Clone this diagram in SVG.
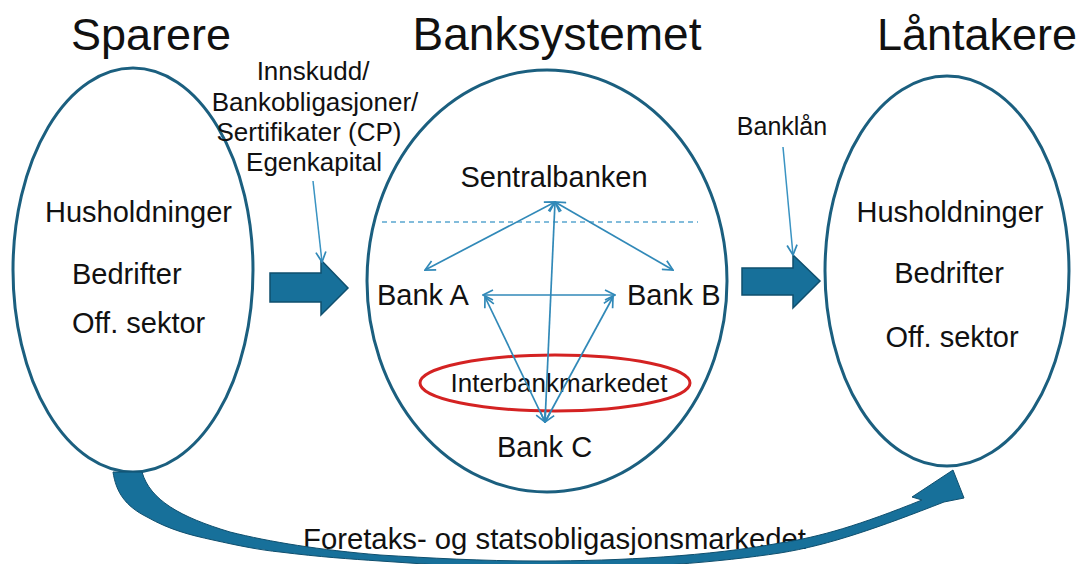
<svg xmlns="http://www.w3.org/2000/svg" width="1083" height="564" viewBox="0 0 1083 564">
  <style>
    text { font-family: "Liberation Sans", Arial, sans-serif; fill: #111; }
    .title { font-size: 45px; text-anchor: middle; }
    .lbl { font-size: 29px; }
    .mid { text-anchor: middle; }
    .small { font-size: 26px; text-anchor: middle; }
    .sector { fill: none; stroke: #1b5f7f; stroke-width: 3; }
    .block { fill: #17709a; stroke: #0f4f6e; stroke-width: 1.5; }
    .link { fill: none; stroke: #3189b8; stroke-width: 1.7; marker-start: url(#head); marker-end: url(#head); }
    .pointer { fill: none; stroke: #3a93c2; stroke-width: 1.5; marker-end: url(#head); }
  </style>
  <defs>
    <marker id="head" viewBox="0 0 12 12" refX="11" refY="6" markerWidth="12" markerHeight="12" markerUnits="userSpaceOnUse" orient="auto-start-reverse">
      <path d="M1,1 L11,6 L1,11" fill="none" stroke="#3189b8" stroke-width="1.7"/>
    </marker>
  </defs>

  <!-- column headings -->
  <text class="title" x="151" y="50">Sparere</text>
  <text class="title" x="557" y="50" style="font-size:46px">Banksystemet</text>
  <text class="title" x="977" y="50">Låntakere</text>

  <!-- savers -->
  <g id="sparere">
    <ellipse class="sector" cx="133" cy="270" rx="120" ry="202"/>
    <text class="lbl" x="45" y="222">Husholdninger</text>
    <text class="lbl" x="72" y="284">Bedrifter</text>
    <text class="lbl" x="72" y="333">Off. sektor</text>
  </g>

  <!-- banking system -->
  <g id="banksystemet">
    <ellipse class="sector" cx="547" cy="281" rx="180" ry="211"/>
    <line x1="382" y1="222" x2="698" y2="222" stroke="#5aa6cf" stroke-width="1.3" stroke-dasharray="5 4"/>
  </g>
  <g id="sentralbanken">
    <text class="lbl mid" x="554" y="187">Sentralbanken</text>
  </g>
  <g id="bank-a">
    <text class="lbl" x="377" y="305">Bank A</text>
  </g>
  <g id="bank-b">
    <text class="lbl" x="627" y="305">Bank B</text>
  </g>
  <g id="bank-c">
    <text class="lbl" x="497" y="457">Bank C</text>
  </g>
  <g id="interbankmarkedet">
    <ellipse cx="555" cy="383" rx="135" ry="28" fill="none" stroke="#d42222" stroke-width="3"/>
    <text class="small" x="559" y="392">Interbankmarkedet</text>
  </g>

  <!-- borrowers -->
  <g id="laantakere">
    <ellipse class="sector" cx="947" cy="271" rx="122" ry="195"/>
    <text class="lbl mid" x="950" y="222">Husholdninger</text>
    <text class="lbl mid" x="949" y="283">Bedrifter</text>
    <text class="lbl mid" x="952" y="347">Off. sektor</text>
  </g>

  <!-- flow labels -->
  <g id="instrumenter">
    <text class="small" x="313" y="80">Innskudd/</text>
    <text class="small" x="315" y="111">Bankobligasjoner/</text>
    <text class="small" x="309" y="141">Sertifikater (CP)</text>
    <text class="small" x="314" y="171">Egenkapital</text>
  </g>
  <g id="banklaan">
    <text class="small" x="782" y="135" style="font-size:25px">Banklån</text>
  </g>
  <g id="obligasjonsmarkedet">
    <text class="lbl" x="303" y="549" textLength="503" lengthAdjust="spacingAndGlyphs">Foretaks- og statsobligasjonsmarkedet</text>
  </g>

  <!-- connectors -->
  <g id="connectors">
    <!-- block arrows between sectors -->
    <path class="block" d="M270,273 L321,273 L321,260 L348,288 L321,315 L321,302 L270,302 Z"/>
    <path class="block" d="M742,268 L793,268 L793,255 L820,281 L793,308 L793,295 L742,295 Z"/>
    <!-- pointers from labels -->
    <line class="pointer" x1="313" y1="181" x2="322" y2="262"/>
    <line class="pointer" x1="783" y1="147" x2="793" y2="255"/>
    <!-- links inside the banking system -->
    <line class="link" x1="555" y1="202" x2="425" y2="270"/>
    <line class="link" x1="555" y1="202" x2="673" y2="270"/>
    <line class="link" x1="555" y1="202" x2="545" y2="422"/>
    <line class="link" x1="483" y1="295" x2="615" y2="295"/>
    <line class="link" x1="485" y1="297" x2="545" y2="422"/>
    <line class="link" x1="613" y1="297" x2="545" y2="422"/>
    <!-- curved arrow from savers to borrowers -->
    <path d="M113,472 C116,492 125,506 147,517 C170,530 190,535 213,540 C240,546 260,550 280,552 C320,557 350,559 380,561 C440,565 490,569 540,569 C640,569 720,562 780,553 C830,545 880,527 944,502 L964,498 L953,470 L912,497 L922,500 C860,525 820,537 780,543 C710,556 620,561 540,561 C480,561 430,558 380,555 C320,550 270,542 230,532 C180,517 150,500 142,472 Z" fill="#17709a" stroke="#0f4f6e" stroke-width="1"/>
  </g>
</svg>
